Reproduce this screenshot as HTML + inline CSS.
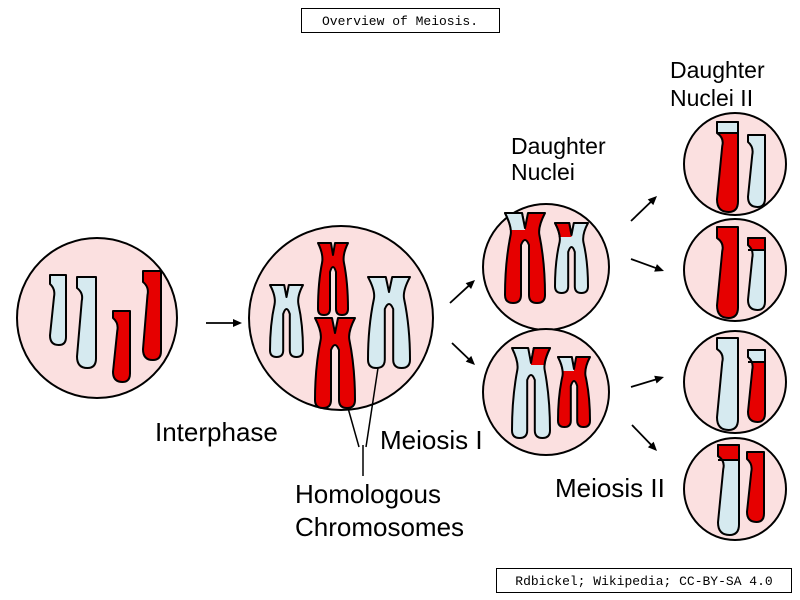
<!DOCTYPE html>
<html><head><meta charset="utf-8"><style>
html,body{margin:0;padding:0;background:#fff;width:800px;height:600px;overflow:hidden}
svg{display:block}
</style></head><body>
<svg id="s" width="800" height="600" viewBox="0 0 800 600" xmlns="http://www.w3.org/2000/svg" font-family="Liberation Sans, sans-serif">
<defs id="defs"></defs>
<rect x="301.5" y="8.5" width="198" height="24" fill="#fff" stroke="#000"/>
<text x="400" y="25" text-anchor="middle" font-family="Liberation Mono, monospace" font-size="13">Overview of Meiosis.</text>
<rect x="496.5" y="568.5" width="295" height="24" fill="#fff" stroke="#000"/>
<text x="644" y="585" text-anchor="middle" font-family="Liberation Mono, monospace" font-size="13">Rdbickel; Wikipedia; CC-BY-SA 4.0</text>
<g fill="#fbe0e0" stroke="#000" stroke-width="2">
<circle cx="97" cy="318" r="80"/>
<circle cx="341" cy="318" r="92"/>
<circle cx="546" cy="267" r="63"/>
<circle cx="546" cy="392" r="63"/>
<circle cx="735" cy="164" r="51"/>
<circle cx="735" cy="270" r="51"/>
<circle cx="735" cy="382" r="51"/>
<circle cx="735" cy="489" r="51"/>
</g>
<g id="chr"></g>
<g stroke="#000" stroke-width="1.5" fill="none">
<line x1="348" y1="408" x2="359" y2="447"/><line x1="378" y1="368" x2="366" y2="447"/><line x1="363" y1="445" x2="363" y2="476"/>
</g>
<g id="arr" stroke="#000" stroke-width="1.8"></g>
<g font-size="26" fill="#000">
<text x="155" y="441">Interphase</text>
<text x="380" y="449">Meiosis I</text>
<text x="295" y="503">Homologous</text>
<text x="295" y="536">Chromosomes</text>
<text x="555" y="497">Meiosis II</text>
</g>
<g font-size="23" fill="#000">
<text x="511" y="154">Daughter</text><text x="511" y="180">Nuclei</text>
<text x="670" y="78">Daughter</text><text x="670" y="106">Nuclei II</text>
</g>
</svg>
<script>
var R="#e60000",B="#d6eaf0",ns="http://www.w3.org/2000/svg";
var g=document.getElementById('chr'),ga=document.getElementById('arr'),defs=document.getElementById('defs'),cid=0;
function el(t,a,p){var e=document.createElementNS(ns,t);for(var k in a)e.setAttribute(k,a[k]);(p||g).appendChild(e);return e;}
function clip(x,y,w,h){var id='c'+(cid++);var c=el('clipPath',{id:id},defs);el('rect',{x:x,y:y,width:w,height:h},c);return 'url(#'+id+')';}
function shape(d,c){el('path',{d:d,fill:c,stroke:'#000','stroke-width':2,'stroke-linejoin':'round'});}
function shapeClip(d,c,cp){el('path',{d:d,fill:c,stroke:'#000','stroke-width':2,'stroke-linejoin':'round','clip-path':cp});}
function chromatid(x,y,w,H,a,c,hc,hh){
 var d="M"+x+","+y+" H"+(x+w)+" V"+(y+H-w*0.5)+" Q"+(x+w)+","+(y+H)+" "+(x+w*0.55)+","+(y+H)+" Q"+x+","+(y+H)+" "+x+","+(y+H-w*0.6)+
 " L"+(x+w*0.25)+","+(y+a+8)+" Q"+(x+w*0.35)+","+(y+a)+" "+x+","+(y+a-5)+" Z";
 shape(d,c);
 if(hc){shapeClip(d,hc,clip(x-3,y-3,w+6,hh+3));el('line',{x1:x,y1:y+hh,x2:x+w,y2:y+hh,stroke:'#000','stroke-width':2});}
}
function X(x,y,W,H,a,c,hl,hr){
 var w=W*0.4;
 var d="M"+x+","+y+" L"+(x+w+1)+","+y+" L"+(x+W/2)+","+(y+a-5)+" L"+(x+W-w-1)+","+y+" L"+(x+W)+","+y+
 " Q"+(x+W-w*0.45)+","+(y+a-6)+" "+(x+W-w*0.35)+","+(y+a+2)+
 " Q"+(x+W)+","+(y+H*0.55)+" "+(x+W)+","+(y+H-w*0.5)+" Q"+(x+W)+","+(y+H)+" "+(x+W-w/2)+","+(y+H)+" Q"+(x+W-w)+","+(y+H)+" "+(x+W-w)+","+(y+H-w*0.5)+
 " L"+(x+W-w)+","+(y+a+12)+" Q"+(x+W/2)+","+(y+a+2)+" "+(x+w)+","+(y+a+12)+
 " L"+(x+w)+","+(y+H-w*0.5)+" Q"+(x+w)+","+(y+H)+" "+(x+w/2)+","+(y+H)+" Q"+x+","+(y+H)+" "+x+","+(y+H-w*0.5)+
 " Q"+x+","+(y+H*0.55)+" "+(x+w*0.35)+","+(y+a+2)+" Q"+(x+w*0.45)+","+(y+a-6)+" "+x+","+y+" Z";
 shape(d,c);
 if(hl)shapeClip(d,hl,clip(x-3,y-3,W/2+3,a));
 if(hr)shapeClip(d,hr,clip(x+W/2,y-3,W/2+3,a));
}
chromatid(50,275,16,70,14,B);
chromatid(77,277,19,91,16,B);
chromatid(113,311,17,71,12,R);
chromatid(143,271,18,89,16,R);
X(270,285,33,72,17,B);
X(318,243,30,72,17,R);
X(315,318,40,90,20,R);
X(368,277,42,91,20,B);
X(505,213,40,90,20,R,B);
X(555,223,33,70,17,B,R);
X(512,348,38,90,20,B,null,R);
X(558,357,32,70,17,R,B);
chromatid(717,122,21,90,16,R,B,11);
chromatid(748,135,17,72,12,B);
chromatid(717,227,21,91,16,R);
chromatid(748,238,17,72,12,B,R,12);
chromatid(717,338,21,92,16,B);
chromatid(748,350,17,72,12,R,B,12);
chromatid(718,445,21,90,16,B,R,15);
chromatid(747,452,17,70,12,R);
function A(x1,y1,x2,y2){
 var dx=x2-x1,dy=y2-y1,L=Math.hypot(dx,dy),ux=dx/L,uy=dy/L;
 el('line',{x1:x1,y1:y1,x2:x2-ux*6,y2:y2-uy*6},ga);
 var bx=x2-ux*9,by=y2-uy*9;
 el('polygon',{points:x2+","+y2+" "+(bx-uy*4)+","+(by+ux*4)+" "+(bx+uy*4)+","+(by-ux*4),fill:'#000','stroke-width':0},ga);
}
A(206,323,242,323);A(450,303,475,280);A(452,343,475,365);
A(631,221,657,196);A(631,259,664,271);A(631,387,664,377);A(632,425,657,451);
</script>
</body></html>
